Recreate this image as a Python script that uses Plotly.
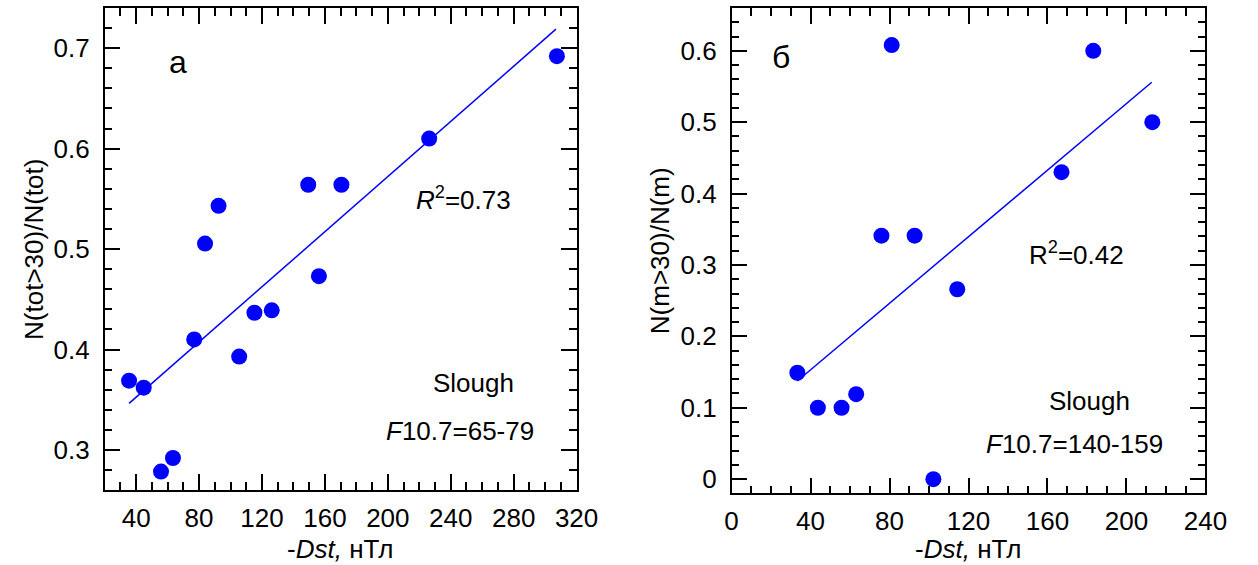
import plotly.graph_objects as go

# ---- Panel a data ----
dst_a = [35.5, 44.8, 55.8, 63.4, 76.9, 83.8, 92.4, 105.5, 115.2, 126.2, 149.4, 156.2, 170.5, 226.3, 307.5]
ratio_a = [0.369, 0.362, 0.2785, 0.292, 0.410, 0.5055, 0.543, 0.393, 0.4366, 0.439, 0.564, 0.473, 0.564, 0.610, 0.692]
fit_a_x = [35.5, 306.9]
fit_a_y = [0.3464, 0.7189]

# ---- Panel b data ----
dst_b = [33.3, 43.7, 55.7, 63.1, 75.9, 81.1, 92.7, 102.2, 114.3, 167.1, 183.2, 213.1]
ratio_b = [0.149, 0.100, 0.100, 0.119, 0.341, 0.608, 0.341, 0.0, 0.266, 0.430, 0.600, 0.500]
fit_b_x = [33.3, 212.8]
fit_b_y = [0.1375, 0.556]

W, H = 1258, 565
FONT = "Liberation Sans, Arial, sans-serif"
FS = 26
BLUE = "#0000ff"

def px(x):
    return x / W

def py(y):
    return 1 - y / H

fig = go.Figure()
fig.add_trace(go.Scatter(x=fit_a_x, y=fit_a_y, mode="lines", line=dict(color=BLUE, width=1.5),
                         xaxis="x", yaxis="y", showlegend=False))
fig.add_trace(go.Scatter(x=dst_a, y=ratio_a, mode="markers", marker=dict(color=BLUE, size=16),
                         xaxis="x", yaxis="y", showlegend=False, cliponaxis=False))
fig.add_trace(go.Scatter(x=fit_b_x, y=fit_b_y, mode="lines", line=dict(color=BLUE, width=1.5),
                         xaxis="x2", yaxis="y2", showlegend=False))
fig.add_trace(go.Scatter(x=dst_b, y=ratio_b, mode="markers", marker=dict(color=BLUE, size=16),
                         xaxis="x2", yaxis="y2", showlegend=False, cliponaxis=False))

axis_common = dict(
    showline=True, linecolor="black", linewidth=1.5, mirror="ticks",
    ticks="inside", ticklen=16, tickwidth=1.5, tickcolor="black",
    showgrid=False, zeroline=False,
    tickfont=dict(family=FONT, size=FS, color="black"),
)

fig.update_layout(
    width=W, height=H,
    margin=dict(l=0, r=0, t=0, b=0),
    plot_bgcolor="white", paper_bgcolor="white",
    font=dict(family=FONT, size=FS, color="black"),
    xaxis=dict(domain=[px(100), px(583)], range=[20, 320], dtick=40, tick0=0,
               minor=dict(ticks="inside", ticklen=8, dtick=10, tickwidth=1.5, tickcolor="black"),
               ticklabelstandoff=4, anchor="y", **axis_common),
    yaxis=dict(domain=[py(491), py(8)], range=[0.26, 0.74], dtick=0.1, tick0=0,
               minor=dict(ticks="inside", ticklen=8, dtick=0.02, tickwidth=1.5, tickcolor="black"),
               ticklabelstandoff=8, anchor="x", **axis_common),
    xaxis2=dict(domain=[px(741.7), px(1226.7)], range=[0, 240], dtick=40, tick0=0,
                minor=dict(ticks="inside", ticklen=8, dtick=10, tickwidth=1.5, tickcolor="black"),
                ticklabelstandoff=4, anchor="y2", **axis_common),
    yaxis2=dict(domain=[py(494.3), py(8)], range=[-0.02, 0.66], dtick=0.1, tick0=0,
                minor=dict(ticks="inside", ticklen=8, dtick=0.02, tickwidth=1.5, tickcolor="black"),
                ticklabelstandoff=8, anchor="x2", **axis_common),
)

def ann(text, x, y, size=FS, rot=0):
    fig.add_annotation(text=text, x=px(x), y=py(y), xref="paper", yref="paper",
                       showarrow=False, xanchor="center", yanchor="middle", textangle=rot,
                       font=dict(family=FONT, size=size, color="black"))

# Panel labels and annotations
ann("а", 175, 62, size=32)
ann("<i>R</i><sup>2</sup>=0.73", 467, 199)
ann("Slough", 477, 384)
ann("<i>F</i>10.7=65-79", 464, 432)

ann("б", 792, 57, size=32)
ann("R<sup>2</sup>=0.42", 1095, 254)
ann("Slough", 1108, 402)
ann("<i>F</i>10.7=140-159", 1093, 445)

# Axis titles
ann("N(tot>30)/N(tot)", 27, 250, rot=-90)
ann("N(m>30)/N(m)", 668, 251, rot=-90)
ann("-<i>Dst,</i> нТл", 341, 550)
ann("-<i>Dst,</i> нТл", 984, 550)

fig.write_html("out.html")
